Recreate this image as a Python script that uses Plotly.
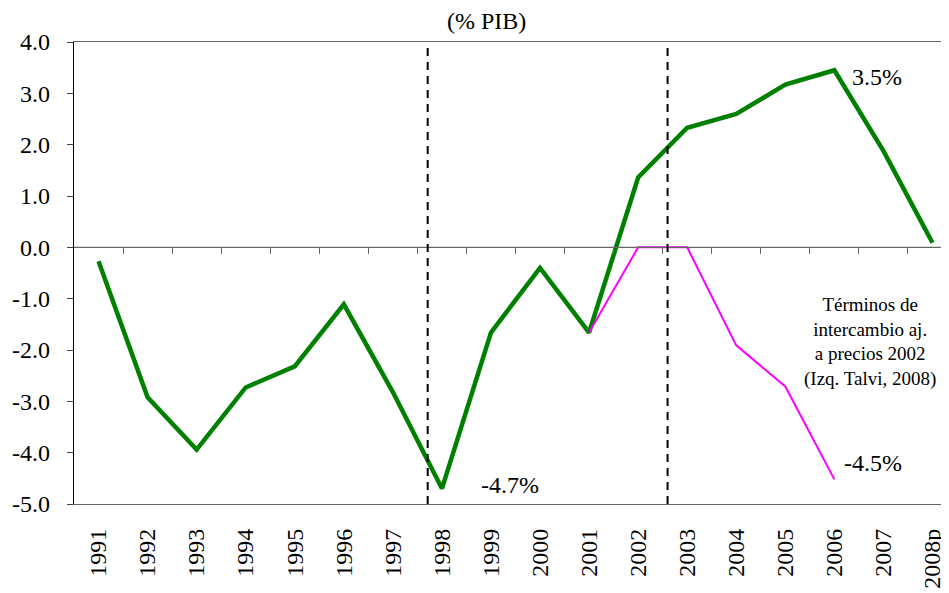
import plotly.graph_objects as go

years = ["1991", "1992", "1993", "1994", "1995", "1996", "1997", "1998", "1999",
         "2000", "2001", "2002", "2003", "2004", "2005", "2006", "2007", "2008p"]
saldo = [-0.27, -2.92, -3.94, -2.73, -2.32, -1.11, -2.82, -4.70, -1.66,
         -0.40, -1.66, 1.36, 2.33, 2.60, 3.17, 3.45, 1.88, 0.09]
ajustado = [None, None, None, None, None, None, None, None, None,
            None, -1.66, 0.0, 0.0, -1.91, -2.71, -4.52, None, None]
y_ticks = [4, 3, 2, 1, 0, -1, -2, -3, -4, -5]
y_labels = [f"{v:.1f}" for v in y_ticks]
crisis_marks = [6.71, 11.6]   # dashed separators (category index)

serif = "Liberation Serif"

fig = go.Figure()
fig.add_trace(go.Scatter(x=years, y=saldo, mode="lines",
                         line=dict(color="#008000", width=4.5), showlegend=False))
fig.add_trace(go.Scatter(x=years, y=ajustado, mode="lines",
                         line=dict(color="#ff00ff", width=2), showlegend=False))

for xm in crisis_marks:
	fig.add_shape(type="line", xref="x", yref="paper", x0=xm, x1=xm, y0=0, y1=1,
	              line=dict(color="black", width=2, dash="8px,6px"))

# zero line with tick marks at category boundaries
fig.add_trace(go.Scatter(x=[-0.5, 17.5], y=[0, 0], xaxis="x2", mode="lines",
                         line=dict(color="#666666", width=1.2), hoverinfo="skip",
                         showlegend=False))

i98 = years.index("1998")
i06 = years.index("2006")
fig.add_annotation(text="(% PIB)", xref="paper", yref="paper", x=0.467, y=1,
                   yanchor="bottom", yshift=6, showarrow=False,
                   font=dict(family=serif, size=24, color="black"))
fig.add_annotation(text="-4.7%", x=i98, y=saldo[i98], xref="x", yref="y",
                   xanchor="left", xshift=37, yshift=4, showarrow=False,
                   font=dict(family=serif, size=24, color="black"))
fig.add_annotation(text="3.5%", x=i06, y=saldo[i06], xref="x", yref="y",
                   xanchor="left", xshift=16, yshift=-7, showarrow=False,
                   font=dict(family=serif, size=24, color="black"))
fig.add_annotation(text="-4.5%", x=i06, y=ajustado[i06], xref="x", yref="y",
                   xanchor="left", xshift=8, yshift=16, showarrow=False,
                   font=dict(family=serif, size=24, color="black"))
fig.add_annotation(text="Términos de<br>intercambio aj.<br>a precios 2002<br>(Izq. Talvi, 2008)",
                   x=15.73, y=-1.85, xref="x", yref="y", showarrow=False, align="center",
                   font=dict(family=serif, size=19, color="black"))

# the page body adds an 8px offset, so margins are reduced by that amount
fig.update_layout(
	width=949, height=593,
	margin=dict(l=66, r=0, t=34, b=97),
	plot_bgcolor="white", paper_bgcolor="white",
	font=dict(family=serif, size=24, color="black"),
	xaxis=dict(type="category", range=[-0.5, 17.5], showgrid=False, automargin=False,
	           showline=True, linecolor="#666666", linewidth=1.2, mirror=True,
	           ticks="", tickangle=-90, ticklabelstandoff=14,
	           tickfont=dict(family=serif, size=24, color="black"), zeroline=False),
	xaxis2=dict(overlaying="x", anchor="free", position=5 / 9, range=[-0.5, 17.5],
	            showgrid=False, showline=False, zeroline=False, showticklabels=False,
	            automargin=False,
	            tickvals=[i + 0.5 for i in range(17)], ticks="outside", ticklen=6,
	            tickcolor="#666666", tickwidth=1.2),
	yaxis=dict(range=[-5, 4], tickvals=y_ticks, ticktext=y_labels, showgrid=False,
	           zeroline=False, showline=True, linecolor="black", linewidth=1.2,
	           automargin=False,
	           ticks="outside", ticklen=6, tickcolor="#444444", ticklabelstandoff=12,
	           tickfont=dict(family=serif, size=24, color="black")),
)

fig.write_html("out.html")
